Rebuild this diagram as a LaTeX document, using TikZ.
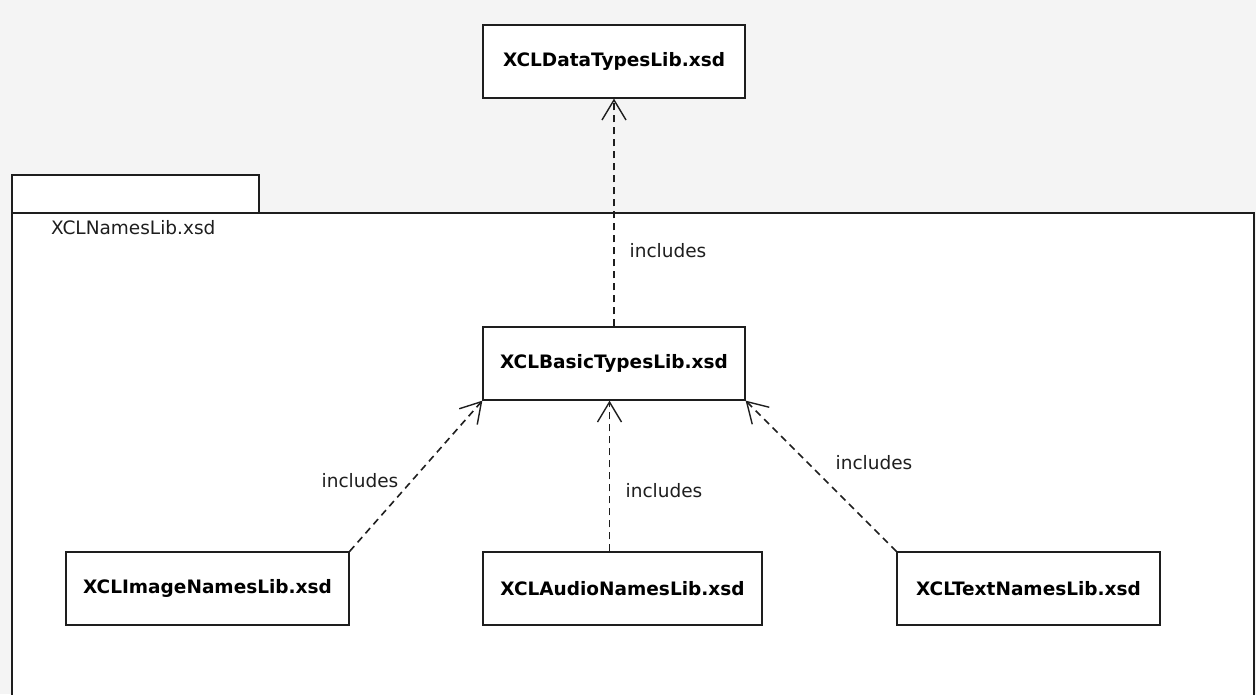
\documentclass[tikz,border=0pt]{standalone}
\usepackage{fontspec}
\setmainfont{DejaVu Sans}
\usetikzlibrary{arrows.meta,calc}

\definecolor{pagegray}{HTML}{F4F4F4}
\definecolor{inkline}{HTML}{1E1E1E}

\tikzset{
  libbox/.style={draw=inkline, line width=1.3pt, fill=white, inner sep=0pt,
    minimum height=73pt, font=\fontsize{18.5}{22}\selectfont\bfseries},
  incl/.style={draw=inkline, line width=1.6pt, dash pattern=on 7pt off 5pt,
    -{Straight Barb[length=20pt,width=24pt,line width=1.4pt]}},
  lbl/.style={inner sep=0pt, font=\fontsize{18.5}{22}\selectfont, text=inkline}
}

\begin{document}
\begin{tikzpicture}[x=1pt,y=-1pt]
\useasboundingbox (0,0) rectangle (1256,694);
\fill [pagegray] (0,0) rectangle (1256,694);

% package XCLNamesLib.xsd
\filldraw [fill=white, draw=inkline, line width=1.3pt] (12,213) rectangle (259,175);
\filldraw [fill=white, draw=inkline, line width=1.3pt]
  (12,700) -- (12,213) -- (1254,213) -- (1254,700);
\node [lbl, anchor=west] (pkgname) at (51,228) {XCLNamesLib.xsd};

% schema files
\node [libbox, minimum width=262pt] (data)  at (614,61.5)   {XCLDataTypesLib.xsd};
\node [libbox, minimum width=262pt] (basic) at (614,363.5)  {XCLBasicTypesLib.xsd};
\node [libbox, minimum width=283pt] (image) at (207.5,588.5) {XCLImageNamesLib.xsd};
\node [libbox, minimum width=279pt] (audio) at (622.5,588.5) {XCLAudioNamesLib.xsd};
\node [libbox, minimum width=263pt] (text)  at (1028.5,588.5) {XCLTextNamesLib.xsd};

% includes
\draw [incl] (basic.north) -- (data.south);
\draw [incl] (image.north east) -- (basic.south west);
\draw [incl] ([xshift=-13pt]audio.north) -- ([xshift=-13pt]audio.north |- basic.south);
\draw [incl] (text.north west) -- (basic.south east);

\node [lbl] (incdata)  at (668,251) {includes};
\node [lbl] (incimage) at (360,481) {includes};
\node [lbl] (incaudio) at (664,491) {includes};
\node [lbl] (inctext)  at (874,463) {includes};
\end{tikzpicture}
\end{document}
